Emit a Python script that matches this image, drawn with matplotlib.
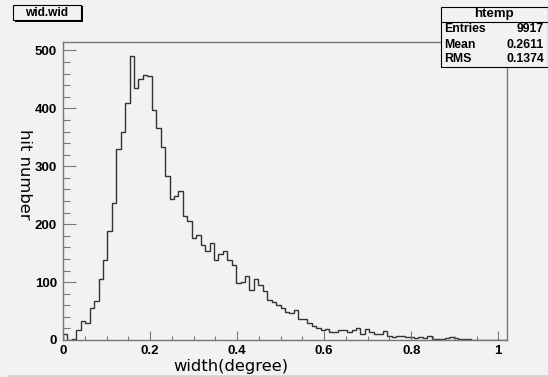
import numpy as np
import matplotlib
matplotlib.use('Agg')
import matplotlib.pyplot as plt
from matplotlib.patches import Rectangle
from matplotlib.lines import Line2D
from matplotlib.ticker import MultipleLocator

# histogram of wid.wid, 100 bins between 0 and 1.02
x_min, x_max = 0.0, 1.02
counts = [
    10, 0, 1, 18, 32, 29, 55, 67, 106, 139,
    188, 237, 329, 360, 410, 490, 436, 450, 458, 456,
    397, 366, 333, 284, 244, 248, 257, 214, 205, 177,
    182, 164, 154, 168, 139, 149, 154, 138, 130, 99,
    100, 111, 86, 105, 95, 84, 69, 66, 61, 55,
    48, 47, 51, 37, 37, 29, 25, 21, 17, 19,
    14, 13, 18, 17, 14, 18, 20, 11, 19, 13,
    10, 10, 15, 7, 5, 7, 7, 5, 6, 4,
    5, 4, 7, 1, 2, 2, 3, 5, 3, 1,
    1, 1, 0, 0, 0, 0, 0, 0, 0, 0,
]
x_ticks = [0, 0.2, 0.4, 0.6, 0.8, 1]
x_tick_labels = ['0', '0.2', '0.4', '0.6', '0.8', '1']
y_ticks = [0, 100, 200, 300, 400, 500]

title = 'wid.wid'
x_title = 'width(degree)'
y_title = 'hit number'
stats_name = 'htemp'
stats_rows = [('Entries', '9917'), ('Mean', '0.2611'), ('RMS', '0.1374')]

W, H = 548, 377
bg = '#f2f2f2'
line_col = '#333333'
axis_col = '#777777'


def fx(px):
    return px / W


def fy(py):
    return 1 - py / H


fig = plt.figure(figsize=(W / 100, H / 100), dpi=100, facecolor=bg)

# frame: x 63..507, y 41.5..340 (pixels)
ax = fig.add_axes([fx(63), fy(340), (507 - 63) / W, (340 - 41.5) / H])
ax.set_facecolor(bg)

edges = np.linspace(x_min, x_max, len(counts) + 1)
ax.stairs(counts, edges, color=line_col, lw=1.0)

ax.set_xlim(x_min, x_max)
ax.set_ylim(0, 515.5)

ax.set_xticks(x_ticks)
ax.set_xticklabels(x_tick_labels)
ax.set_yticks(y_ticks)
ax.xaxis.set_minor_locator(MultipleLocator(0.05))
ax.yaxis.set_minor_locator(MultipleLocator(20))

ax.tick_params(axis='x', which='major', direction='in', length=6.3, width=0.8,
               color=axis_col, pad=3.3)
ax.tick_params(axis='x', which='minor', direction='in', length=3.2, width=0.8,
               color=axis_col)
ax.tick_params(axis='y', which='major', direction='in', length=9.6, width=0.8,
               color=axis_col, pad=4.3)
ax.tick_params(axis='y', which='minor', direction='in', length=4.8, width=0.8,
               color=axis_col)
ax.tick_params(top=False, right=False, which='both')

for lab in ax.get_xticklabels() + ax.get_yticklabels():
    lab.set_fontfamily('Liberation Sans')
    lab.set_fontweight('bold')
    lab.set_fontsize(9.5)

for sp in ax.spines.values():
    sp.set_color(axis_col)
    sp.set_linewidth(1.0)

# axis titles
fig.text(fx(231), fy(371.5), x_title, ha='center', va='baseline',
         fontsize=11.8, family='DejaVu Sans')
fig.text(fx(24), fy(174), y_title, ha='center', va='center', rotation=270,
         fontsize=11.8, family='DejaVu Sans')

# title box with shadow
fig.add_artist(Rectangle((fx(14.5), fy(21.5)), (81 - 12.7) / W, (21.5 - 6.5) / H,
                         transform=fig.transFigure, facecolor='black',
                         edgecolor='none', zorder=4))
fig.add_artist(Rectangle((fx(12.7), fy(20)), (81 - 12.7) / W, (20 - 5) / H,
                         transform=fig.transFigure, facecolor=bg,
                         edgecolor='black', lw=0.8, zorder=5))
fig.text(fx(47), fy(12.5), title, ha='center', va='center', fontsize=8.6,
         family='Liberation Sans', fontweight='bold', zorder=6)

# stats box
bx0, bx1, by0, by1 = 441, 547.5, 7, 67
fig.add_artist(Rectangle((fx(bx0), fy(by1)), (bx1 - bx0) / W, (by1 - by0) / H,
                         transform=fig.transFigure, facecolor=bg,
                         edgecolor='black', lw=0.8, zorder=5))
row_h = (by1 - by0) / 4
fig.add_artist(Line2D([fx(bx0), fx(bx1)], [fy(by0 + row_h)] * 2,
                      transform=fig.transFigure, color='black', lw=0.8, zorder=6))
fig.text(fx((bx0 + bx1) / 2), fy(by0 + row_h / 2), stats_name, ha='center',
         va='center', fontsize=9.5, family='Liberation Sans',
         fontweight='bold', zorder=7)
for i, (name, val) in enumerate(stats_rows):
    yc = by0 + row_h * (i + 1.5)
    fig.text(fx(444), fy(yc), name, ha='left', va='center', fontsize=8.8,
             family='Liberation Sans', fontweight='bold', zorder=7)
    fig.text(fx(544), fy(yc), val, ha='right', va='center', fontsize=8.8,
             family='Liberation Sans', fontweight='bold', zorder=7)

# canvas bottom edge
fig.add_artist(Line2D([fx(8), 1], [fy(375.5)] * 2, transform=fig.transFigure,
                      color='#d4d4d4', lw=2))

fig.savefig('out.png', dpi=100, facecolor=bg)
